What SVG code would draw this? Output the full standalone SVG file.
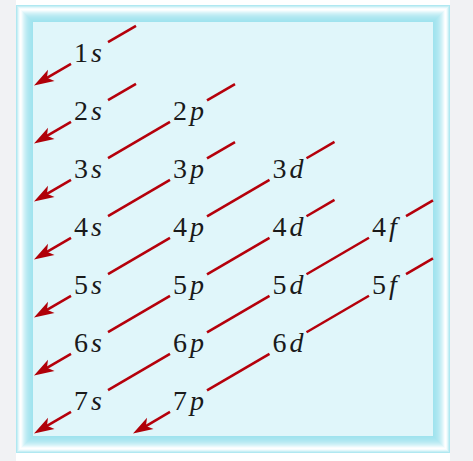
<svg xmlns="http://www.w3.org/2000/svg" width="473" height="461" viewBox="0 0 473 461">
<defs>
<style>
.seg{stroke:#b5000b;stroke-width:2.6;fill:none;stroke-linecap:butt}
.arr{marker-end:url(#ah)}
.fr{fill:none;stroke-width:1}
</style>
<marker id="ah" markerUnits="userSpaceOnUse" markerWidth="24" markerHeight="16" viewBox="-8 -8 24 16" refX="0" refY="0" orient="auto">
<path d="M14,0 L-6,-6.5 L-1,0 L-6,6.5 Z" fill="#b00008"/>
</marker>
</defs>
<g id="background">
<rect x="0" y="0" width="473" height="461" fill="#ffffff"/>
<rect x="0" y="0" width="16" height="461" fill="#f1f2f4"/>
<rect x="450" y="0" width="23" height="461" fill="#f1f2f4"/>
</g>
<g id="frame">
<rect class="fr" x="16.5" y="5.5" width="433" height="447" stroke="#b0e8f1"/>
<rect class="fr" x="17.5" y="6.5" width="431" height="445" stroke="#c8eff5"/>
<rect class="fr" x="18.5" y="7.5" width="429" height="443" stroke="#e2f7fa"/>
<rect class="fr" x="19.5" y="8.5" width="427" height="441" stroke="#f6fcfe"/>
<rect class="fr" x="20.5" y="9.5" width="425" height="439" stroke="#ffffff"/>
<rect class="fr" x="21.5" y="10.5" width="423" height="437" stroke="#f8fdfe"/>
<rect class="fr" x="22.5" y="11.5" width="421" height="435" stroke="#eaf9fc"/>
<rect class="fr" x="23.5" y="12.5" width="419" height="433" stroke="#dcf5f9"/>
<rect class="fr" x="24.5" y="13.5" width="417" height="431" stroke="#d0f1f7"/>
<rect class="fr" x="25.5" y="14.5" width="415" height="429" stroke="#c6eef5"/>
<rect class="fr" x="26.5" y="15.5" width="413" height="427" stroke="#bdebf3"/>
<rect class="fr" x="27.5" y="16.5" width="411" height="425" stroke="#b5e9f2"/>
<rect class="fr" x="28.5" y="17.5" width="409" height="423" stroke="#afe7f1"/>
<rect class="fr" x="29.5" y="18.5" width="407" height="421" stroke="#aae6f0"/>
<rect class="fr" x="30.5" y="19.5" width="405" height="419" stroke="#a6e5ef"/>
<rect class="fr" x="31.5" y="20.5" width="403" height="417" stroke="#a3e4ef"/>
<rect class="fr" x="32.5" y="21.5" width="401" height="415" stroke="#a0e3ee"/>
<rect x="33" y="22" width="400" height="414" fill="#e0f6fa"/>
</g>
<g id="connectors">
<line class="seg" x1="136" y1="25.83" x2="108" y2="42.18"/>
<line class="seg arr" x1="71" y1="63.79" x2="46.09" y2="78.33"/>
<line class="seg" x1="136" y1="83.83" x2="108" y2="100.18"/>
<line class="seg arr" x1="71" y1="121.79" x2="46.09" y2="136.33"/>
<line class="seg" x1="235" y1="84.01" x2="207" y2="100.36"/>
<line class="seg" x1="170" y1="121.97" x2="108" y2="158.18"/>
<line class="seg arr" x1="71" y1="179.79" x2="46.09" y2="194.33"/>
<line class="seg" x1="235" y1="142.01" x2="207" y2="158.36"/>
<line class="seg" x1="170" y1="179.97" x2="108" y2="216.18"/>
<line class="seg arr" x1="71" y1="237.79" x2="46.09" y2="252.33"/>
<line class="seg" x1="334.5" y1="141.9" x2="306.5" y2="158.25"/>
<line class="seg" x1="269.5" y1="179.86" x2="207" y2="216.36"/>
<line class="seg" x1="170" y1="237.97" x2="108" y2="274.18"/>
<line class="seg arr" x1="71" y1="295.79" x2="46.09" y2="310.33"/>
<line class="seg" x1="334.5" y1="199.9" x2="306.5" y2="216.25"/>
<line class="seg" x1="269.5" y1="237.86" x2="207" y2="274.36"/>
<line class="seg" x1="170" y1="295.97" x2="108" y2="332.18"/>
<line class="seg arr" x1="71" y1="353.79" x2="46.09" y2="368.33"/>
<line class="seg" x1="433" y1="200.38" x2="406" y2="216.15"/>
<line class="seg" x1="369" y1="237.75" x2="306.5" y2="274.25"/>
<line class="seg" x1="269.5" y1="295.86" x2="207" y2="332.36"/>
<line class="seg" x1="170" y1="353.97" x2="108" y2="390.18"/>
<line class="seg arr" x1="71" y1="411.79" x2="46.09" y2="426.33"/>
<line class="seg" x1="433" y1="258.38" x2="406" y2="274.15"/>
<line class="seg" x1="369" y1="295.75" x2="306.5" y2="332.25"/>
<line class="seg" x1="269.5" y1="353.86" x2="207" y2="390.36"/>
<line class="seg arr" x1="170" y1="411.97" x2="145.09" y2="426.51"/>
</g>
<g id="labels" font-family="Liberation Serif, serif" font-size="28" fill="#1a1a1a">
<g id="n1s"><text x="74" y="61.7">1<tspan font-style="italic" dx="3">s</tspan></text></g>
<g id="n2s"><text x="74" y="119.7">2<tspan font-style="italic" dx="3">s</tspan></text></g>
<g id="n2p"><text x="173" y="119.7">2<tspan font-style="italic" dx="3">p</tspan></text></g>
<g id="n3s"><text x="74" y="177.7">3<tspan font-style="italic" dx="3">s</tspan></text></g>
<g id="n3p"><text x="173" y="177.7">3<tspan font-style="italic" dx="3">p</tspan></text></g>
<g id="n3d"><text x="272.5" y="177.7">3<tspan font-style="italic" dx="3">d</tspan></text></g>
<g id="n4s"><text x="74" y="235.7">4<tspan font-style="italic" dx="3">s</tspan></text></g>
<g id="n4p"><text x="173" y="235.7">4<tspan font-style="italic" dx="3">p</tspan></text></g>
<g id="n4d"><text x="272.5" y="235.7">4<tspan font-style="italic" dx="3">d</tspan></text></g>
<g id="n4f"><text x="372" y="235.7">4<tspan font-style="italic" dx="3">f</tspan></text></g>
<g id="n5s"><text x="74" y="293.7">5<tspan font-style="italic" dx="3">s</tspan></text></g>
<g id="n5p"><text x="173" y="293.7">5<tspan font-style="italic" dx="3">p</tspan></text></g>
<g id="n5d"><text x="272.5" y="293.7">5<tspan font-style="italic" dx="3">d</tspan></text></g>
<g id="n5f"><text x="372" y="293.7">5<tspan font-style="italic" dx="3">f</tspan></text></g>
<g id="n6s"><text x="74" y="351.7">6<tspan font-style="italic" dx="3">s</tspan></text></g>
<g id="n6p"><text x="173" y="351.7">6<tspan font-style="italic" dx="3">p</tspan></text></g>
<g id="n6d"><text x="272.5" y="351.7">6<tspan font-style="italic" dx="3">d</tspan></text></g>
<g id="n7s"><text x="74" y="409.7">7<tspan font-style="italic" dx="3">s</tspan></text></g>
<g id="n7p"><text x="173" y="409.7">7<tspan font-style="italic" dx="3">p</tspan></text></g>
</g>
</svg>
